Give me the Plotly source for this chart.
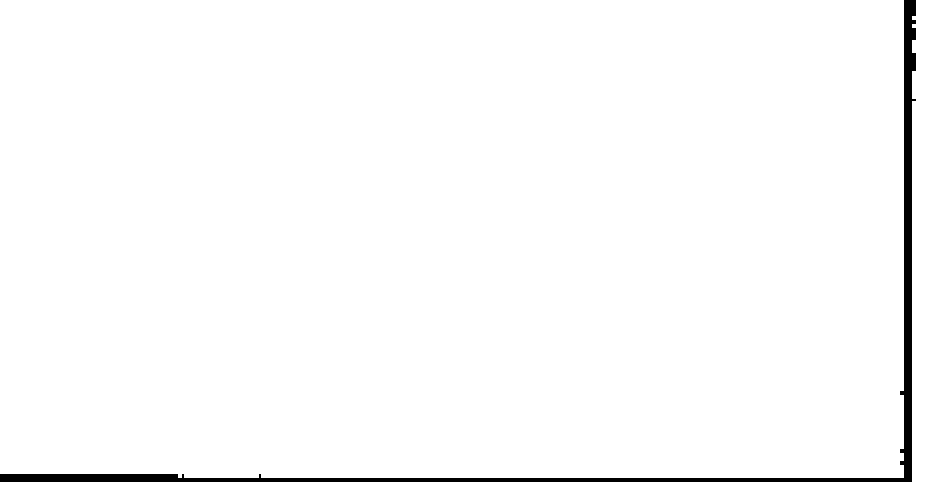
import plotly.graph_objects as go

# Plot coordinates: x in [0, 904] (plot width), y in [0, 478] (plot height, bottom = 0)
band_x = [0, 178]
band_y = [0, 0]

x_ticks = [183, 260]
# outside ticks (right side), values measured from bottom
right_out_ticks = [477, 475, 473, 471, 469, 467, 465, 463,
                   457, 455,
                   449, 447, 445, 443, 441, 439,
                   424, 422, 420, 418, 416, 414, 412, 410, 408,
                   378.5]
# inside ticks pointing left
right_in_ticks = [85, 27, 15]

fig = go.Figure()
fig.add_trace(go.Scatter(x=band_x, y=band_y, mode="lines",
                         line=dict(color="black", width=8),
                         showlegend=False, hoverinfo="skip"))
fig.add_trace(go.Scatter(x=[0], y=[0], yaxis="y2", mode="markers",
                         marker=dict(opacity=0), showlegend=False, hoverinfo="skip"))

fig.update_layout(
    width=944, height=482,
    margin=dict(l=0, r=40, t=0, b=4, pad=0),
    paper_bgcolor="white", plot_bgcolor="white",
    showlegend=False,
    xaxis=dict(range=[0, 904], showgrid=False, zeroline=False,
               showline=True, linecolor="black", linewidth=4,
               ticks="inside", tickvals=x_ticks, ticklen=4, tickwidth=2,
               tickcolor="black", showticklabels=False),
    yaxis=dict(range=[0, 478], side="right", showgrid=False, zeroline=False,
               showline=True, linecolor="black", linewidth=8,
               ticks="outside", tickvals=right_out_ticks, ticklen=4, tickwidth=2,
               tickcolor="black", showticklabels=False),
    yaxis2=dict(range=[0, 478], side="right", overlaying="y", showgrid=False,
                zeroline=False, showline=False,
                ticks="inside", tickvals=right_in_ticks, ticklen=4, tickwidth=4,
                tickcolor="black", showticklabels=False),
)

fig.write_html("out.html",
               config={"displayModeBar": False, "staticPlot": True},
               post_script="document.body.style.margin='0';document.body.style.overflow='hidden';")
